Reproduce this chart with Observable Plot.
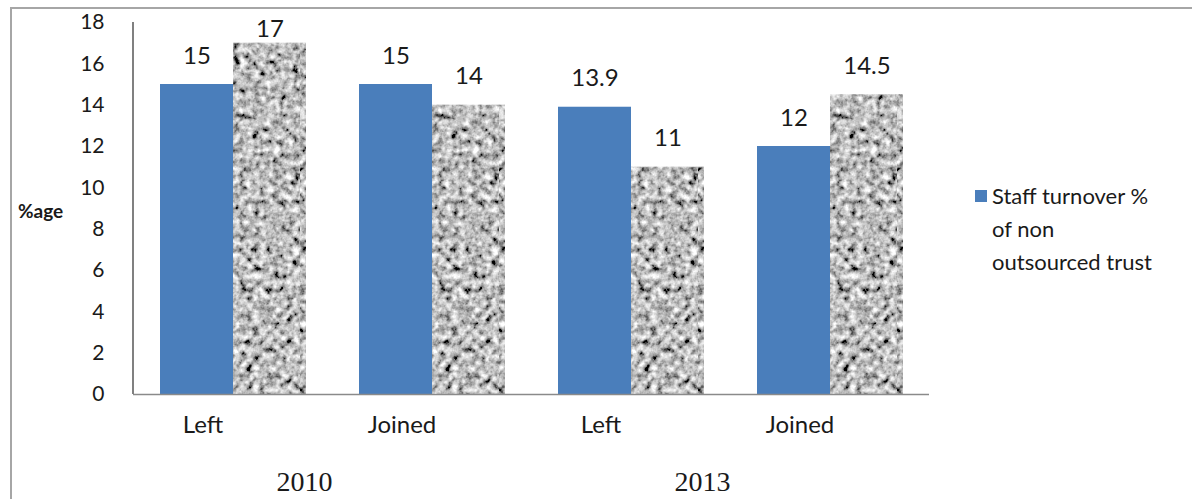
<!DOCTYPE html>
<html>
<head>
<meta charset="utf-8">
<script src="https://cdn.jsdelivr.net/npm/d3@7"></script>
<script src="https://cdn.jsdelivr.net/npm/@observablehq/plot@0.6"></script>
<style>
  body { margin: 0; background: #fff; }
  #wrap { position: relative; width: 1197px; height: 499px; overflow: hidden; font-family: Lato, "Open Sans", sans-serif; }
  #border { position: absolute; left: 10px; top: 7px; width: 1180px; height: 500px; border-top: 2px solid #a6a6a6; border-left: 2px solid #a6a6a6; }
  #ylab { position: absolute; left: 18px; top: 199px; font-size: 19px; font-weight: bold; color: #1a1a1a; }
  #legend { position: absolute; left: 975px; top: 179px; font-size: 22px; color: #1a1a1a; line-height: 33px; width: 220px; }
  #legend .sw { position: absolute; left: 0; top: 11px; width: 12px; height: 12px; background: #4a7ebb; }
  #legend .tx { margin-left: 17px; }
  svg { position: absolute; left: 0; top: 0; }
</style>
</head>
<body>
<div id="wrap">
  <div id="border"></div>
  <div id="ylab">%age</div>
  <div id="legend"><div class="sw"></div><div class="tx">Staff turnover %<br>of non<br>outsourced trust</div></div>
</div>
<script>
const years = ["2010", "2010", "2013", "2013"];
const types = ["Left", "Joined", "Left", "Joined"];
const seriesNames = ["Staff turnover % of non outsourced trust", "Staff turnover % of outsourced trust"];
const seriesA = [15, 15, 13.9, 12];
const seriesB = [17, 14, 11, 14.5];
const yTicks = [0, 2, 4, 6, 8, 10, 12, 14, 16, 18];
const yearLabels = ["2010", "2013"];

const yMax = 18;
const marginLeft = 133;
const groups = years.map((y, i) => `${y} ${types[i]}`);
const rows = [];
groups.forEach((g, i) => {
  rows.push({group: g, series: seriesNames[0], value: seriesA[i]});
  rows.push({group: g, series: seriesNames[1], value: seriesB[i]});
});
const yearRows = yearLabels.map(y => ({group: `${y} Left`, year: y}));

const chart = Plot.plot({
  width: 1197,
  height: 499,
  marginLeft,
  marginRight: 268,
  marginTop: 22,
  marginBottom: 105,
  style: {background: "transparent", fontFamily: "Lato, 'Open Sans', sans-serif", color: "#1a1a1a"},
  fx: {domain: groups, padding: 0, label: null},
  x: {domain: seriesNames, paddingInner: 0, paddingOuter: 0.36, axis: null},
  y: {domain: [0, yMax], label: null},
  color: {domain: seriesNames, range: ["#4a7ebb", "url(#granite)"]},
  marks: [
    Plot.axisY({ticks: yTicks, tickSize: 0, tickPadding: 29, fontSize: 21, label: null}),
    Plot.axisFx({anchor: "bottom", tickSize: 0, tickPadding: 21, fontSize: 24, label: null, dx: -30, tickFormat: d => d.split(" ")[1]}),
    Plot.barY(rows, {fx: "group", x: "series", y: "value", fill: "series"}),
    Plot.ruleY([0], {stroke: "#8a8a8a", strokeWidth: 1.5}),
    // labels kept inside the plot area, as the original does for the tallest bar
    Plot.text(rows, {fx: "group", x: "series", y: d => Math.min(d.value, yMax - 1.7), text: d => String(d.value), lineAnchor: "bottom", dy: -21, fontSize: 24, fill: "#1a1a1a"}),
    Plot.text(yearRows, {fx: "group", text: "year", frameAnchor: "bottom-right", textAnchor: "middle", dx: -28, dy: 96, fontSize: 28, fontFamily: "'Liberation Serif', serif", fill: "#1a1a1a"})
  ]
});

d3.select(chart).insert("defs", ":first-child").html(`
  <filter id="granFilter" x="0" y="0" width="300" height="499" filterUnits="userSpaceOnUse">
    <feTurbulence type="fractalNoise" baseFrequency="0.15" numOctaves="3" seed="7" result="n"/>
    <feColorMatrix in="n" type="matrix" values="0.33 0.33 0.33 0 0  0.33 0.33 0.33 0 0  0.33 0.33 0.33 0 0  0 0 0 0 1" result="g"/>
    <feComponentTransfer in="g">
      <feFuncR type="linear" slope="3.0" intercept="-0.98"/>
      <feFuncG type="linear" slope="3.0" intercept="-0.98"/>
      <feFuncB type="linear" slope="3.0" intercept="-0.98"/>
    </feComponentTransfer>
  </filter>
  <pattern id="granite" patternUnits="userSpaceOnUse" x="0" y="0" width="300" height="499">
    <rect width="300" height="499" fill="#999" filter="url(#granFilter)"/>
  </pattern>
`);

// value axis line, placed with Plot's own y scale at the left edge of the plot frame
const yScale = chart.scale("y");
d3.select(chart).append("line")
  .attr("x1", marginLeft).attr("x2", marginLeft)
  .attr("y1", yScale.apply(0)).attr("y2", yScale.apply(yMax))
  .attr("stroke", "#808080").attr("stroke-width", 2);

document.getElementById("wrap").appendChild(chart);
</script>
</body>
</html>
